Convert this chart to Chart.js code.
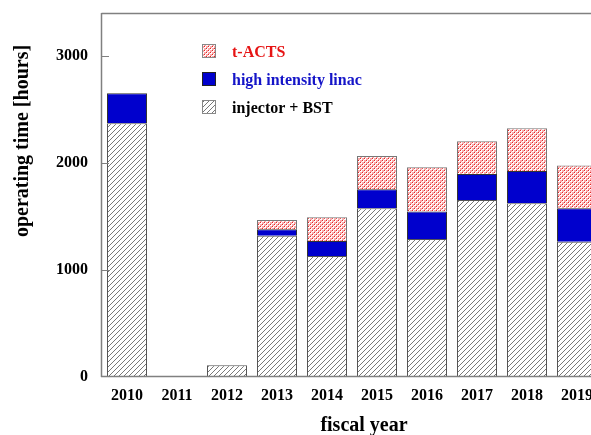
<!DOCTYPE html>
<html>
<head>
<meta charset="utf-8">
<style>
html,body{margin:0;padding:0;background:#fff;overflow:hidden;width:591px;height:435px;}
#wrap{position:absolute;left:0;top:0;width:620px;height:435px;}
</style>
<script src="https://cdn.jsdelivr.net/npm/chart.js@4/dist/chart.umd.min.js"></script>
</head>
<body>
<div id="wrap"><canvas id="c" width="620" height="435"></canvas></div>
<script>
const years = ['2010','2011','2012','2013','2014','2015','2016','2017','2018','2019'];
const injectorBST = [2370, null, 110, 1320, 1130, 1577, 1290, 1654, 1623, 1264];
const highIntensityLinac = [280, null, null, 60, 140, 177, 255, 243, 302, 313];
const tACTS = [null, null, null, 87, 222, 311, 415, 306, 399, 398];
const yTicks = [0, 1000, 2000, 3000];
const seriesNames = ['t-ACTS', 'high intensity linac', 'injector + BST'];
const yTitle = 'operating time [hours]';
const xTitle = 'fiscal year';

function hatchPattern(){
  const t = document.createElement('canvas'); t.width = 5; t.height = 5;
  const g = t.getContext('2d');
  g.fillStyle = '#fff'; g.fillRect(0,0,5,5);
  g.strokeStyle = '#555'; g.lineWidth = 0.8;
  g.beginPath();
  g.moveTo(-1,6); g.lineTo(6,-1);
  g.moveTo(-1,1); g.lineTo(1,-1);
  g.moveTo(4,6); g.lineTo(6,4);
  g.stroke();
  return g.createPattern(t,'repeat');
}
function crossPattern(){
  const t = document.createElement('canvas'); t.width = 4; t.height = 4;
  const g = t.getContext('2d');
  g.fillStyle = '#fff'; g.fillRect(0,0,4,4);
  g.fillStyle = 'rgba(245,110,110,0.6)';
  g.fillRect(0,0,2,2); g.fillRect(2,2,2,2);
  g.fillStyle = 'rgba(225,0,0,0.85)';
  g.fillRect(2,0,1,1); g.fillRect(0,2,1,1);
  return g.createPattern(t,'repeat');
}
const ctx0 = document.getElementById('c').getContext('2d');
const hatch = hatchPattern();
const cross = crossPattern();
const blue = '#0000cd';

const serif = "'Liberation Serif','Times New Roman',serif";

const decor = {
  id: 'decor',
  afterDatasetsDraw(chart){
    const ctx = chart.ctx, a = chart.chartArea, y = chart.scales.y;
    ctx.save();
    ctx.strokeStyle = '#808080'; ctx.lineWidth = 1.5;
    ctx.beginPath();
    ctx.moveTo(a.left - 0.5, a.top + 0.5); ctx.lineTo(a.right + 30, a.top + 0.5);
    ctx.moveTo(a.left - 0.5, a.top); ctx.lineTo(a.left - 0.5, a.bottom);
    ctx.moveTo(a.left - 1, a.bottom - 0.5); ctx.lineTo(a.right + 30, a.bottom - 0.5);
    ctx.stroke();
    ctx.lineWidth = 1;
    ctx.beginPath();
    yTicks.forEach(v => { if (v === 0) return; const py = Math.round(y.getPixelForValue(v)) + 0.5; ctx.moveTo(a.left, py); ctx.lineTo(a.left + 7, py); });
    ctx.stroke();

    // legend
    const items = [
      {txt: seriesNames[0], fill: cross, col: '#e61414', border: '#888', ty: 57},
      {txt: seriesNames[1], fill: blue, col: '#1414c8', border: '#222', ty: 85},
      {txt: seriesNames[2], fill: hatch, col: '#000', border: '#888', ty: 113}
    ];
    ctx.font = 'bold 16px ' + serif;
    ctx.textBaseline = 'alphabetic'; ctx.textAlign = 'left';
    items.forEach(it => {
      const by = it.ty - 13;
      ctx.fillStyle = it.fill; ctx.fillRect(202, by, 14, 14);
      ctx.strokeStyle = it.border; ctx.lineWidth = 1; ctx.strokeRect(202.5, by + 0.5, 13, 13);
      ctx.fillStyle = it.col; ctx.fillText(it.txt, 232, it.ty);
    });

    // axis titles
    ctx.fillStyle = '#000';
    ctx.font = 'bold 20px ' + serif;
    ctx.textAlign = 'center'; ctx.textBaseline = 'alphabetic';
    ctx.fillText(xTitle, 364, 431);
    ctx.save();
    ctx.translate(28, 141); ctx.rotate(-Math.PI/2);
    ctx.fillText(yTitle, 0, 0);
    ctx.restore();
    ctx.restore();
  }
};

new Chart(ctx0, {
  type: 'bar',
  data: {
    labels: years,
    datasets: [
      {label: seriesNames[2], data: injectorBST, backgroundColor: hatch, borderColor: '#555', borderWidth: 1, barPercentage: 0.8, categoryPercentage: 1.0},
      {label: seriesNames[1], data: highIntensityLinac, backgroundColor: blue, borderColor: '#333', borderWidth: 1, barPercentage: 0.8, categoryPercentage: 1.0},
      {label: seriesNames[0], data: tACTS, backgroundColor: cross, borderColor: '#777', borderWidth: 1, barPercentage: 0.8, categoryPercentage: 1.0}
    ]
  },
  options: {
    responsive: false,
    animation: false,
    layout: {padding: {top: 13, right: 18, left: 0, bottom: 0}},
    plugins: {legend: {display: false}, tooltip: {enabled: false}},
    scales: {
      x: {
        stacked: true,
        grid: {display: false, drawTicks: false},
        border: {display: false},
        ticks: {color: '#000', font: {family: serif, size: 16, weight: 'bold'}, padding: 9, maxRotation: 0, autoSkip: false},
        afterFit(s){ s.height = 58; s.paddingLeft = 0; s.paddingRight = 0; }
      },
      y: {
        stacked: true,
        min: 0, max: 3400,
        grid: {display: false, drawTicks: false},
        border: {display: false},
        ticks: {stepSize: 1000, color: '#000', font: {family: serif, size: 16, weight: 'bold'}, padding: 14, callback: v => String(v)},
        afterBuildTicks(s){ s.ticks = yTicks.map(v => ({value: v})); },
        afterFit(s){ s.width = 102; s.paddingTop = 0; s.paddingBottom = 0; }
      }
    }
  },
  plugins: [decor]
});
</script>
</body>
</html>
